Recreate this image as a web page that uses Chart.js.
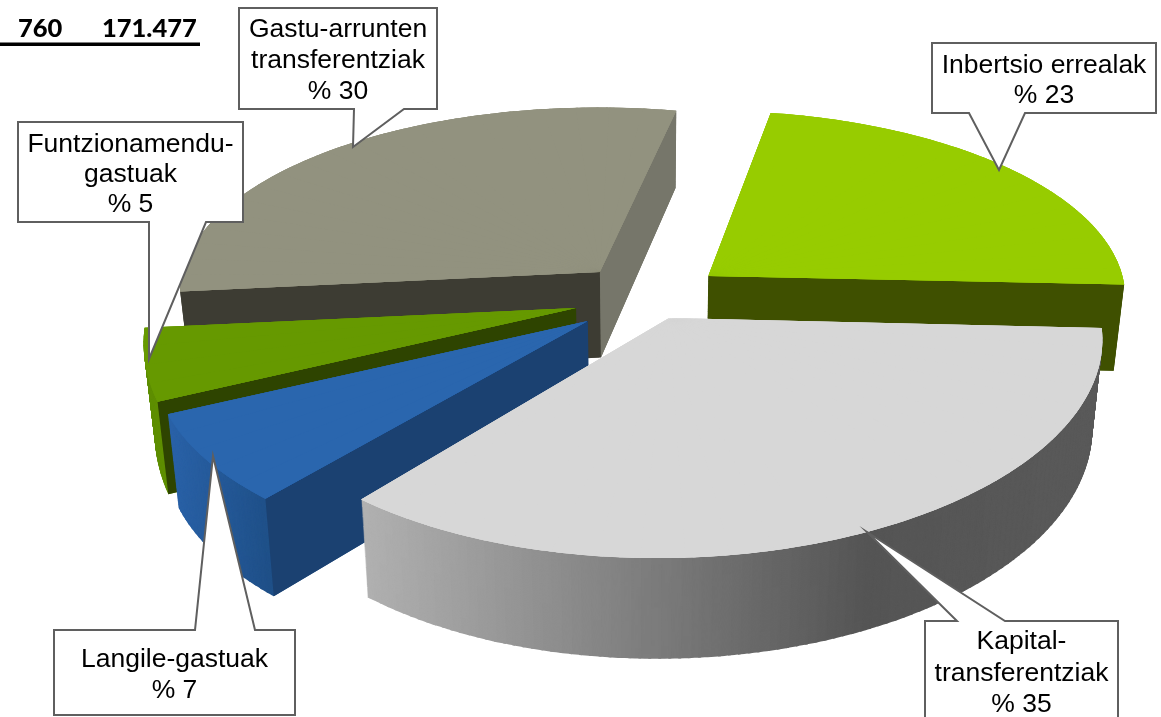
<!DOCTYPE html>
<html lang="eu">
<head>
<meta charset="UTF-8">
<title>Gastuak</title>
<script src="https://cdn.jsdelivr.net/npm/chart.js"></script>
<style>
    html, body { margin: 0; padding: 0; background: #fff; }
    canvas { display: block; }
</style>
</head>
<body>
<canvas id="myChart" width="1161" height="717"></canvas>
<script>
    const categories = [
        ['Inbertsio errealak'],
        ['Kapital-', 'transferentziak'],
        ['Langile-gastuak'],
        ['Funtzionamendu-', 'gastuak'],
        ['Gastu-arrunten', 'transferentziak']
    ];
    const values = [23, 35, 7, 5, 30];
    const headerTexts = ['760', '171.477'];

    const topColors = ['#97cc00', '#d7d7d7', '#2a66ae', '#669900', '#92927f'];

    // rim shading: [screen x, r, g, b]
    const rimShades = [
        [[700, 63, 80, 0], [1130, 63, 80, 0]],
        [[358, 178, 178, 178], [867, 85, 85, 85], [1105, 90, 90, 90]],
        [[170, 42, 98, 168], [270, 31, 80, 136]],
        [[140, 95, 143, 0], [180, 95, 143, 0]],
        [[170, 118, 118, 106], [680, 118, 118, 106]]
    ];
    // flat cut faces, null when they look away from the camera
    const startWalls = [null, null, '#1b4171', '#2e4400', '#3d3c33'];
    const endWalls = ['#3f5000', null, null, null, '#76766a'];

    // perspective camera of the pie plane
    const camera = { cx: 647, cy: 299, sx: 420, sy: 193, persp: 0.117, height: 87, shrink: 0.022 };
    // how each slice is pulled out of the pie
    const views = [
        { ex: 0.148, ey: -0.121, rx: 1.00, ry: 0.98, kx: 0.007, ky: -0.02 },
        { ex: 0.052, ey: 0.097, rx: 1.015, ry: 1.063, kx: -0.012, ky: -0.02 },
        { ex: -0.139, ey: 0.1125, rx: 1.007, ry: 1.055, kx: -0.035, ky: 0 },
        { ex: -0.168, ey: 0.0464, rx: 1.012, ry: 1.17, kx: -0.028, ky: 0.0435 },
        { ex: -0.114, ey: -0.142, rx: 1.01, ry: 0.98, kx: 0, ky: 0.016 }
    ];
    const drawOrder = [4, 0, 3, 2, 1];

    const callouts = [
        { i: 0, box: [932, 43, 1156, 113], tail: [969, 1025, 999, 170], base: [73, 103] },
        { i: 1, box: [925, 621, 1118, 740], tail: [957, 1005, 867, 532], base: [649, 681, 712] },
        { i: 2, box: [54, 630, 295, 715], tail: [195, 255, 213, 456], base: [667, 698] },
        { i: 3, box: [18, 122, 243, 222], tail: [149, 206, 149, 359], base: [152, 182, 212] },
        { i: 4, box: [239, 8, 437, 109], tail: [354, 404, 353, 147], base: [37, 68, 99] }
    ];

    function project(v, angle, r, z) {
        const cos = Math.cos(angle), sin = Math.sin(angle);
        const x = v.ex + r * (v.rx * cos + v.kx * sin);
        const y = v.ey + r * (v.ry * sin + v.ky * cos);
        const w = 1 - camera.persp * y;
        return {
            x: camera.cx + camera.sx * x / w * (1 - camera.shrink * z),
            y: camera.cy + camera.sy * y / w + z * camera.height / w
        };
    }

    function shadeAt(stops, x) {
        if (x <= stops[0][0]) return 'rgb(' + stops[0].slice(1).join(',') + ')';
        for (let i = 1; i < stops.length; i++) {
            if (x <= stops[i][0]) {
                const k = (x - stops[i - 1][0]) / (stops[i][0] - stops[i - 1][0]);
                const c = [1, 2, 3].map(n => Math.round(stops[i - 1][n] + (stops[i][n] - stops[i - 1][n]) * k));
                return 'rgb(' + c.join(',') + ')';
            }
        }
        return 'rgb(' + stops[stops.length - 1].slice(1).join(',') + ')';
    }

    // draws the library's arc as a fan of thin wedges, each one with its own affine map
    function drawFan(ctx, arc, v, z, stepDeg, colorOf) {
        const R = arc.outerRadius;
        const start = arc.startAngle, end = arc.endAngle;
        const n = Math.ceil((end - start) / (stepDeg * Math.PI / 180));
        const part = Object.create(arc);
        for (let i = 0; i < n; i++) {
            const t0 = start + (end - start) * i / n;
            const t1 = start + (end - start) * (i + 1) / n;
            const tip = project(v, t0, 0, z);
            const p1 = project(v, t0, 1, z);
            const p2 = project(v, t1, 1, z);
            const det = Math.sin(t1 - t0);
            const c0 = Math.cos(t0), s0 = Math.sin(t0), c1 = Math.cos(t1), s1 = Math.sin(t1);
            const d1x = p1.x - tip.x, d1y = p1.y - tip.y, d2x = p2.x - tip.x, d2y = p2.y - tip.y;
            const a = (d1x * s1 - d2x * s0) / det;
            const c = (d2x * c0 - d1x * c1) / det;
            const b = (d1y * s1 - d2y * s0) / det;
            const d = (d2y * c0 - d1y * c1) / det;

            part.startAngle = t0;
            part.endAngle = Math.min(t1 + 0.006, end);
            part.circumference = part.endAngle - t0;
            part.options = {
                backgroundColor: colorOf((p1.x + p2.x) / 2), borderColor: 'transparent', borderWidth: 0,
                borderAlign: 'center', borderRadius: 0, spacing: 0, offset: 0, circular: true,
                borderDash: [], borderDashOffset: 0, borderJoinStyle: 'round'
            };
            ctx.save();
            ctx.transform(a / R, b / R, c / R, d / R, tip.x, tip.y);
            ctx.translate(-arc.x, -arc.y);
            part.draw(ctx);
            ctx.restore();
        }
    }

    function drawWall(ctx, v, angle, color) {
        const pts = [project(v, angle, 0, 0), project(v, angle, 1, 0), project(v, angle, 1, 1), project(v, angle, 0, 1)];
        ctx.fillStyle = color;
        ctx.beginPath();
        pts.forEach((p, i) => i ? ctx.lineTo(p.x, p.y) : ctx.moveTo(p.x, p.y));
        ctx.closePath();
        ctx.fill();
    }

    const pie3d = {
        id: 'pie3d',
        beforeDatasetsDraw(chart) {
            const ctx = chart.ctx;
            const arcs = chart.getDatasetMeta(0).data;
            const layers = 100;
            drawOrder.forEach(i => {
                const arc = arcs[i], v = views[i];
                for (let k = layers; k > 0; k--) {
                    drawFan(ctx, arc, v, k / layers, 1.2, x => shadeAt(rimShades[i], x));
                }
                if (startWalls[i]) drawWall(ctx, v, arc.startAngle, startWalls[i]);
                if (endWalls[i]) drawWall(ctx, v, arc.endAngle, endWalls[i]);
                // two passes with different wedges so the seams near the tip fill up
                drawFan(ctx, arc, v, 0, 2.5, () => topColors[i]);
                drawFan(ctx, arc, v, 0, 3.7, () => topColors[i]);
                drawFan(ctx, arc, v, 0, 5.3, () => topColors[i]);
            });
            return false;
        },
        afterDraw(chart) {
            const ctx = chart.ctx;
            ctx.save();
            callouts.forEach(c => {
                const [x0, y0, x1, y1] = c.box;
                const [t0, t1, tx, ty] = c.tail;
                ctx.beginPath();
                ctx.moveTo(x0, y0);
                if (ty < y0) { ctx.lineTo(t0, y0); ctx.lineTo(tx, ty); ctx.lineTo(t1, y0); }
                ctx.lineTo(x1, y0);
                ctx.lineTo(x1, y1);
                if (ty > y1) { ctx.lineTo(t1, y1); ctx.lineTo(tx, ty); ctx.lineTo(t0, y1); }
                ctx.lineTo(x0, y1);
                ctx.closePath();
                ctx.fillStyle = '#fff';
                ctx.fill();
                ctx.strokeStyle = '#5f5f5f';
                ctx.lineWidth = 2;
                ctx.stroke();

                const lines = categories[c.i].concat('% ' + values[c.i]);
                ctx.fillStyle = '#000';
                ctx.font = '26.5px "Liberation Sans"';
                ctx.textAlign = 'center';
                ctx.textBaseline = 'alphabetic';
                lines.forEach((line, n) => ctx.fillText(line, (x0 + x1) / 2, c.base[n]));
            });

            ctx.fillStyle = '#000';
            ctx.font = '900 25.5px Lato';
            ctx.textAlign = 'left';
            ctx.textBaseline = 'alphabetic';
            ctx.fillText(headerTexts[0], 18, 37);
            ctx.fillText(headerTexts[1], 102, 37);
            ctx.fillRect(0, 42.5, 200, 3.5);
            ctx.restore();
        }
    };

    new Chart(document.getElementById('myChart'), {
        type: 'pie',
        data: {
            labels: categories,
            datasets: [{ data: values, backgroundColor: topColors, borderWidth: 0 }]
        },
        options: {
            responsive: false,
            animation: false,
            rotation: 11,
            plugins: { legend: { display: false }, tooltip: { enabled: false } }
        },
        plugins: [pie3d]
    });
</script>
</body>
</html>
